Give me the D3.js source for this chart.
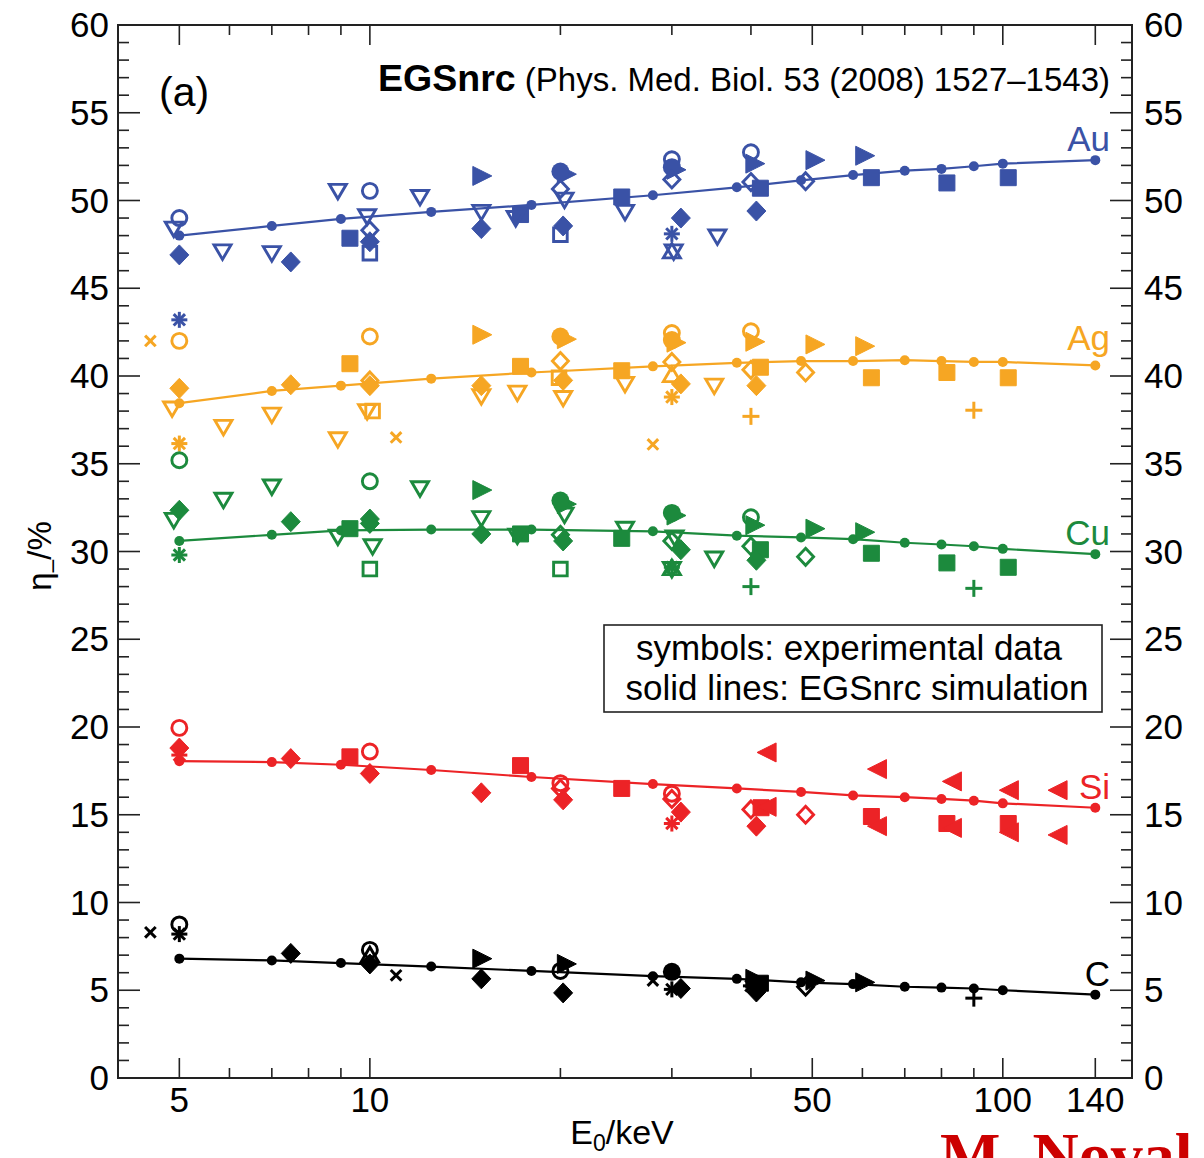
<!DOCTYPE html>
<html><head><meta charset="utf-8">
<script src="https://cdn.jsdelivr.net/npm/d3@7"></script>
<style>
html,body{margin:0;padding:0;background:#fff;}
svg{display:block;font-family:"Liberation Sans",Arial,Helvetica,sans-serif;}
</style></head>
<body>
<svg id="chart" width="1204" height="1158"></svg>
<script>
// ---- data ----
const xMajorTicks = [5, 10, 50, 100, 140];
const xMinorTicks = [6, 7, 8, 9, 20, 30, 40, 60, 70, 80, 90];
const yMajorTicks = [0, 5, 10, 15, 20, 25, 30, 35, 40, 45, 50, 55, 60];
const elements = ["Au", "Ag", "Cu", "Si", "C"];
const colors = {Au: "#3a52a6", Ag: "#f6a623", Cu: "#1c8a3d", Si: "#ec2326", C: "#000000"};

const simE  = [5, 7, 9, 12.5, 18, 28, 38, 48, 58, 70, 80, 90, 100, 140];
const simAu = [48.0, 48.55, 48.95, 49.35, 49.75, 50.3, 50.75, 51.15, 51.45, 51.7, 51.8, 51.95, 52.1, 52.3];
const simAg = [38.45, 39.15, 39.45, 39.85, 40.2, 40.55, 40.75, 40.85, 40.85, 40.9, 40.85, 40.8, 40.8, 40.6];
const simCu = [30.6, 30.95, 31.2, 31.25, 31.25, 31.15, 30.9, 30.8, 30.7, 30.5, 30.4, 30.3, 30.15, 29.85];
const simSi = [18.05, 18.0, 17.85, 17.55, 17.15, 16.75, 16.5, 16.3, 16.1, 16.0, 15.9, 15.8, 15.65, 15.4];
const simC  = [6.8, 6.7, 6.55, 6.35, 6.1, 5.8, 5.65, 5.45, 5.35, 5.2, 5.15, 5.1, 5.0, 4.75];

// experimental points: [symbol, E0 (keV), eta (%)]
// D filled diamond, d open diamond, O filled circle, o open circle, v open down-triangle,
// ^ open up-triangle, > filled right-triangle, < filled left-triangle, S filled square,
// s open square, * asterisk, x cross, + plus
const expAu = [["o",5,49.0],["v",4.9,48.4],["D",5,46.9],["*",5,43.2],["v",5.85,47.1],["v",7.0,47.0],["D",7.5,46.5],
  ["v",8.9,50.55],["S",9.3,47.85],["o",10,50.55],["v",9.9,49.1],["d",10,48.3],["D",10,47.65],["s",10,47.0],
  ["v",12,50.2],[">",15,51.4],["v",15,49.35],["D",15,48.4],["S",17.3,49.2],["v",17,49.0],
  [">",20.4,51.5],["O",20,51.65],["d",20,50.65],["v",20.3,50.05],["s",20,48.05],["D",20.2,48.55],
  ["S",25,50.2],["v",25.3,49.35],["o",30,52.35],[">",30.4,51.75],["O",30,51.9],["d",30,51.2],["D",31,49.0],
  ["*",30,48.1],["^",30,47.1],["v",30.2,47.1],["v",35.4,47.95],["o",40,52.75],[">",40.5,52.1],["d",40,51.05],
  ["S",41.4,50.7],["D",40.8,49.4],["d",48.8,51.1],[">",50.4,52.3],[">",60.4,52.55],["S",62,51.3],
  ["S",81.6,51.0],["S",102,51.3]];
const expAg = [["x",4.5,42.0],["o",5,42.0],["D",5,39.3],["v",4.87,38.15],["*",5,36.15],["v",5.87,37.1],["v",7.0,37.8],
  ["D",7.5,39.5],["v",8.9,36.4],["S",9.3,40.7],["o",10,42.25],["d",10,39.75],["D",10,39.45],["v",9.9,38.0],
  ["s",10.1,38.0],["x",11,36.5],[">",15,42.35],["D",15,39.45],["v",15,38.85],["v",17.1,39.05],["S",17.3,40.55],
  [">",20.4,42.1],["O",20,42.25],["d",20,40.85],["s",19.9,39.9],["D",20.2,39.75],["v",20.2,38.75],["S",25,40.3],
  ["v",25.3,39.55],["x",28,36.1],["o",30,42.45],[">",30.4,41.9],["O",30,42.05],["d",30,40.8],["^",30,40.05],
  ["D",31,39.55],["*",30,38.8],["v",35,39.45],["o",40,42.55],[">",40.5,41.95],["d",40,40.35],["S",41.4,40.5],
  ["D",40.8,39.45],["+",40,37.7],["d",48.8,40.2],[">",50.4,41.8],[">",60.4,41.7],["S",62,39.9],["S",81.6,40.2],
  ["+",90,38.05],["S",102,39.9]];
const expCu = [["o",5,35.2],["D",5,32.35],["v",4.9,31.8],["*",5,29.8],["v",5.87,32.95],["v",7.0,33.7],["D",7.5,31.7],
  ["v",8.9,30.85],["S",9.3,31.3],["o",10,34.0],["D",10,31.85],["D",10,31.6],["v",10.1,30.3],["s",10,29.0],
  ["v",12,33.6],[">",15,33.5],["v",15,31.9],["D",15,31.0],["S",17.3,31.0],["v",17.1,30.9],[">",20.4,32.7],
  ["O",20,32.9],["v",20.3,32.1],["d",20,30.95],["D",20.2,30.6],["s",20,29.0],["v",25.3,31.3],["S",25,30.75],
  [">",30.4,32.05],["O",30,32.2],["v",30.3,30.8],["d",30,30.6],["D",31,30.1],["^",30,29.05],["v",30,29.0],
  ["*",30,29.1],["v",35,29.6],["o",40,31.95],[">",40.5,31.5],["d",40,30.3],["S",41.4,30.1],["D",40.8,29.5],
  ["+",40,28.0],["d",48.8,29.7],[">",50.4,31.3],[">",60.4,31.1],["S",62,29.9],["S",81.6,29.35],["+",90,27.9],
  ["S",102,29.1]];
const expSi = [["o",5,19.95],["D",5,18.8],["*",5,18.4],["D",7.5,18.2],["S",9.3,18.3],["o",10,18.6],["D",10,17.35],
  ["D",15,16.25],["S",17.3,17.8],["o",20,16.8],["d",20,16.5],["D",20.2,15.85],["S",25,16.5],["o",30,16.2],
  ["d",30,15.9],["D",31,15.15],["*",30,14.5],["<",42.5,18.55],["d",40,15.3],["S",41.5,15.4],["<",42.5,15.45],
  ["D",40.8,14.35],["d",48.8,15.0],["<",63.5,17.6],["S",62,14.9],["<",63.5,14.35],["<",83.4,16.9],["S",81.6,14.5],
  ["<",83.4,14.25],["<",102.6,16.4],["S",102,14.5],["<",102.6,14.0],["<",122.5,16.4],["<",122.5,13.85]];
const expC = [["x",4.5,8.3],["o",5,8.75],["*",5,8.2],["D",7.5,7.1],["o",10,7.3],["^",10,7.0],["D",10,6.5],
  ["x",11,5.85],[">",15,6.8],["D",15,5.65],[">",20.4,6.5],["o",20,6.1],["D",20.2,4.85],["x",28,5.55],
  ["O",30,6.05],["*",30,5.05],["D",31,5.1],["*",40,5.25],["S",41.4,5.4],[">",40.5,5.65],["D",40.8,4.9],
  ["d",48.8,5.2],[">",50.4,5.55],[">",60.4,5.45],["+",90,4.55]];

const sim = {Au: simAu, Ag: simAg, Cu: simCu, Si: simSi, C: simC};
const exp = {Au: expAu, Ag: expAg, Cu: expCu, Si: expSi, C: expC};

// ---- layout ----
const svg = d3.select("#chart");
svg.append("rect").attr("width",1204).attr("height",1158).attr("fill","#fff");
const L = 118, R = 1132, T = 25, B = 1078;
const x = d3.scaleLog().domain([4, 160]).range([L, R]);
const y = d3.scaleLinear().domain([0, 60]).range([B, T]);

const axisCol = "#222";
const g = svg.append("g");

// ticks (inward)
const yMinor = d3.range(0, 61, 1).filter(v => v % 5 !== 0);
function vt(x1, y1, x2, y2) {
  g.append("line").attr("x1",x1).attr("y1",y1).attr("x2",x2).attr("y2",y2)
    .attr("stroke",axisCol).attr("stroke-width",1.6);
}
yMajorTicks.forEach(v => { vt(L, y(v), L+22, y(v)); vt(R, y(v), R-22, y(v)); });
yMinor.forEach(v => { vt(L, y(v), L+11, y(v)); vt(R, y(v), R-11, y(v)); });
xMajorTicks.forEach(v => { vt(x(v), B, x(v), B-20); vt(x(v), T, x(v), T+20); });
xMinorTicks.forEach(v => { vt(x(v), B, x(v), B-10); vt(x(v), T, x(v), T+10); });

// frame
g.append("rect").attr("x",L).attr("y",T).attr("width",R-L).attr("height",B-T)
  .attr("fill","none").attr("stroke",axisCol).attr("stroke-width",2);

// tick labels
const fsTick = 35;
yMajorTicks.forEach(v => {
  g.append("text").attr("x",L-9).attr("y",y(v)+12).attr("text-anchor","end")
    .attr("font-size",fsTick).text(v);
  g.append("text").attr("x",R+12).attr("y",y(v)+12).attr("text-anchor","start")
    .attr("font-size",fsTick).text(v);
});
xMajorTicks.forEach(v => {
  g.append("text").attr("x",x(v)).attr("y",B+34).attr("text-anchor","middle")
    .attr("font-size",fsTick).text(v);
});

// axis titles
const xt = g.append("text").attr("x",622).attr("y",1144).attr("text-anchor","middle").attr("font-size",34);
xt.append("tspan").text("E");
xt.append("tspan").attr("font-size",23).attr("dy",7).text("0");
xt.append("tspan").attr("dy",-7).text("/keV");

const yt = g.append("text").attr("transform","translate(51,556) rotate(-90)")
  .attr("text-anchor","middle").attr("font-size",33);
yt.append("tspan").text("η");
yt.append("tspan").attr("font-size",23).attr("dy",8).text("–");
yt.append("tspan").attr("dy",-8).text("/%");

// title texts
g.append("text").attr("x",159).attr("y",106).attr("font-size",41).text("(a)");
const tt = g.append("text").attr("x",1110).attr("y",91).attr("text-anchor","end");
tt.append("tspan").attr("font-weight","bold").attr("font-size",37.5).text("EGSnrc");
tt.append("tspan").attr("font-size",33).text(" (Phys. Med. Biol. 53 (2008) 1527\u20131543)");

// legend box
g.append("rect").attr("x",604).attr("y",625).attr("width",498).attr("height",87)
  .attr("fill","#fff").attr("stroke",axisCol).attr("stroke-width",1.6);
g.append("text").attr("x",849).attr("y",660).attr("text-anchor","middle").attr("font-size",35)
  .text("symbols: experimental data");
g.append("text").attr("x",857).attr("y",700).attr("text-anchor","middle").attr("font-size",35)
  .text("solid lines: EGSnrc simulation");

// simulation lines
const line = d3.line().x(d => x(d[0])).y(d => y(d[1]));
elements.forEach(el => {
  const pts = simE.map((e, i) => [e, sim[el][i]]);
  g.append("path").attr("d", line(pts)).attr("fill","none")
    .attr("stroke", colors[el]).attr("stroke-width", 2.2);
  g.selectAll(null).data(pts).enter().append("circle")
    .attr("cx", d => x(d[0])).attr("cy", d => y(d[1])).attr("r", 5).attr("fill", colors[el]);
});

// markers
function marker(sel, t, cx, cy, c) {
  const sw = 2.9;
  const m = sel.append("g").attr("transform", `translate(${cx},${cy})`);
  const poly = (pts, filled) => m.append("polygon").attr("points", pts.map(p => p.join(",")).join(" "))
    .attr("fill", filled ? c : "none").attr("stroke", c).attr("stroke-width", filled ? 1 : sw)
    .attr("stroke-linejoin","miter");
  switch (t) {
    case "D": poly([[0,-10],[9.5,0],[0,10],[-9.5,0]], true); break;
    case "d": poly([[0,-8.5],[8,0],[0,8.5],[-8,0]], false); break;
    case "O": m.append("circle").attr("r",9).attr("fill",c); break;
    case "o": m.append("circle").attr("r",7.5).attr("fill","none").attr("stroke",c).attr("stroke-width",sw); break;
    case "v": poly([[-8.5,-6.5],[8.5,-6.5],[0,8]], false); break;
    case "^": poly([[-8.5,6.5],[8.5,6.5],[0,-8]], false); break;
    case ">": poly([[-8.5,-9.5],[10.5,0],[-8.5,9.5]], true); break;
    case "<": poly([[8.5,-9.5],[-10.5,0],[8.5,9.5]], true); break;
    case "S": poly([[-8,-8],[8,-8],[8,8],[-8,8]], true); break;
    case "s": poly([[-6.8,-6.8],[6.8,-6.8],[6.8,6.8],[-6.8,6.8]], false); break;
    case "*": [0,45,90,135].forEach(a => m.append("line").attr("x1",-8).attr("x2",8).attr("y1",0).attr("y2",0)
        .attr("transform",`rotate(${a})`).attr("stroke",c).attr("stroke-width",3)); break;
    case "x": [45,135].forEach(a => m.append("line").attr("x1",-7.5).attr("x2",7.5).attr("y1",0).attr("y2",0)
        .attr("transform",`rotate(${a})`).attr("stroke",c).attr("stroke-width",3)); break;
    case "+": [0,90].forEach(a => m.append("line").attr("x1",-8.5).attr("x2",8.5).attr("y1",0).attr("y2",0)
        .attr("transform",`rotate(${a})`).attr("stroke",c).attr("stroke-width",3)); break;
  }
}
elements.forEach(el => {
  const mg = g.append("g");
  exp[el].forEach(p => marker(mg, p[0], x(p[1]), y(p[2]), colors[el]));
});

// element labels
elements.forEach(el => {
  const last = sim[el][sim[el].length - 1];
  g.append("text").attr("x", R - 22).attr("y", y(last) - (el === "Ag" ? 15 : 9))
    .attr("text-anchor","end").attr("font-size",35).attr("fill",colors[el]).text(el);
});

// watermark fragment (cut off by the picture edge, as in the reference)
svg.append("text").attr("x",940).attr("y",1177)
  .attr("font-family","'Liberation Serif','Times New Roman',serif").attr("font-weight","bold")
  .attr("font-size",64).attr("fill","#cc0000").text("M. Noval");
</script>
</body></html>
